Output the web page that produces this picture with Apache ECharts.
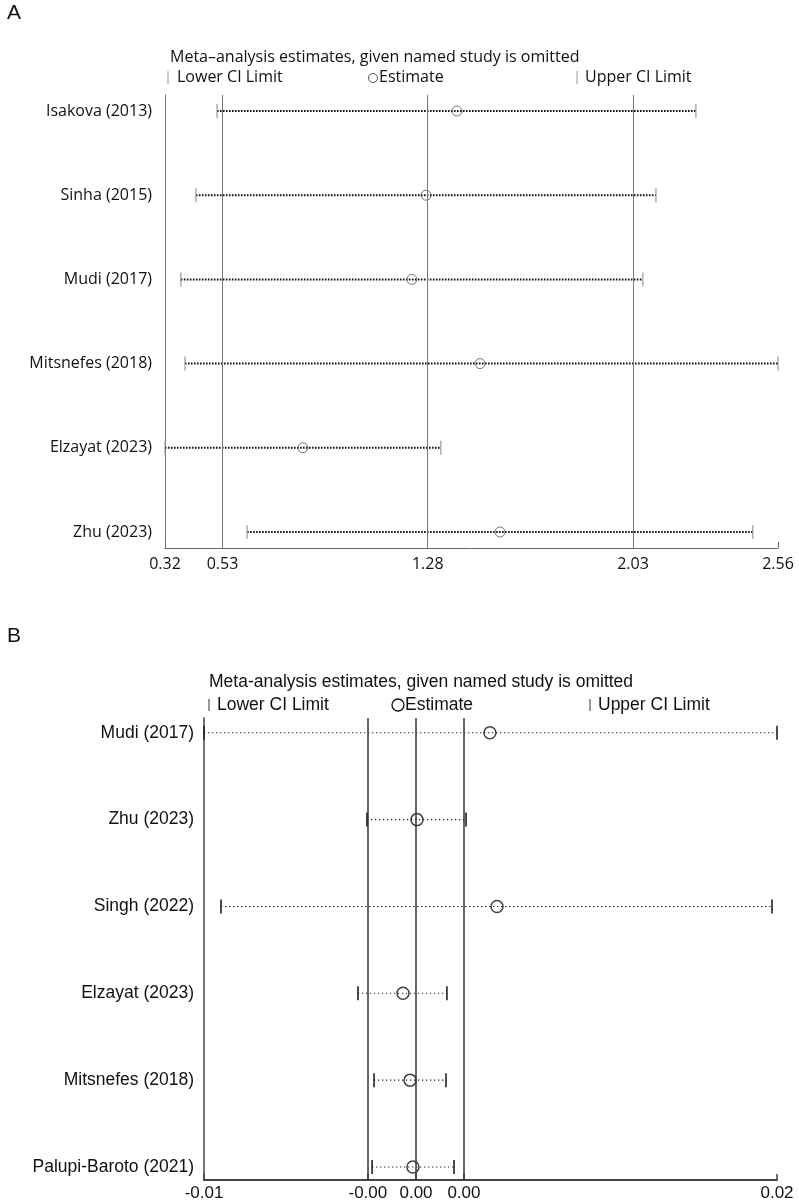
<!DOCTYPE html>
<html>
<head>
<meta charset="utf-8">
<script src="https://cdn.jsdelivr.net/npm/echarts@6/dist/echarts.min.js"></script>
<style>
html, body { margin: 0; padding: 0; background: #fff; }
#main { width: 799px; height: 1202px; }
</style>
</head>
<body>
<div id="main"></div>
<script>
// panel A
var studiesA = ['Isakova (2013)', 'Sinha (2015)', 'Mudi (2017)', 'Mitsnefes (2018)', 'Elzayat (2023)', 'Zhu (2023)'];
var lowerA = [0.51, 0.433, 0.378, 0.393, 0.32, 0.62];
var estA = [1.387, 1.274, 1.222, 1.471, 0.824, 1.544];
var upperA = [2.26, 2.114, 2.066, 2.56, 1.328, 2.468];
var ticksA = [0.32, 0.53, 1.28, 2.03, 2.56];
var tickLabelsA = ['0.32', '0.53', '1.28', '2.03', '2.56'];

// panel B
var studiesB = ['Mudi (2017)', 'Zhu (2023)', 'Singh (2022)', 'Elzayat (2023)', 'Mitsnefes (2018)', 'Palupi-Baroto (2021)'];
var lowerB = [-0.0100, -0.00147, -0.00911, -0.00194, -0.00110, -0.00120];
var estB = [0.00497, 0.00115, 0.00534, 0.00042, 0.00079, 0.00094];
var upperB = [0.0200, 0.00372, 0.01974, 0.00272, 0.00267, 0.00309];
var ticksB = [-0.0100, -0.00142, 0.00110, 0.00361, 0.0200];
var tickLabelsB = ['-0.01', '-0.00', '0.00', '0.00', '0.02'];

var rowIdx = [0, 1, 2, 3, 4, 5];

function pickLabel(ticks, labels) {
  return function (v) {
    var best = 0;
    for (var i = 1; i < ticks.length; i++) {
      if (Math.abs(ticks[i] - v) < Math.abs(ticks[best] - v)) best = i;
    }
    return labels[best];
  };
}

// dotted CI line with a small bar at each end
function ciRender(st) {
  return function (params, api) {
    var row = api.value(0);
    var p1 = api.coord([api.value(1), row]);
    var p2 = api.coord([api.value(2), row]);
    var h = st.capH / 2;
    return {
      type: 'group',
      children: [
        { type: 'line', shape: { x1: p1[0], y1: p1[1], x2: p2[0], y2: p2[1] },
          style: { stroke: st.dot, lineWidth: st.dotW, lineDash: st.dash, lineCap: 'butt' } },
        { type: 'line', shape: { x1: p1[0], y1: p1[1] - h, x2: p1[0], y2: p1[1] + h },
          style: { stroke: st.cap, lineWidth: st.capW } },
        { type: 'line', shape: { x1: p2[0], y1: p2[1] - h, x2: p2[0], y2: p2[1] + h },
          style: { stroke: st.cap, lineWidth: st.capW } }
      ]
    };
  };
}

var ciA = rowIdx.map(function (i) { return [i, lowerA[i], upperA[i]]; });
var ciB = rowIdx.map(function (i) { return [i, lowerB[i], upperB[i]]; });
var ptA = rowIdx.map(function (i) { return [estA[i], i]; });
var ptB = rowIdx.map(function (i) { return [estB[i], i]; });

var fontA = '"Open Sans", sans-serif';
var fontB = '"Liberation Sans", Arial, sans-serif';

var chart = echarts.init(document.getElementById('main'));

var option = {
  animation: false,
  backgroundColor: '#fff',
  grid: [
    { left: 165, right: 21, top: 95, height: 453 },
    { left: 204, right: 22, top: 718, height: 462 }
  ],
  xAxis: [
    {
      gridIndex: 0, type: 'value', min: ticksA[0], max: ticksA[ticksA.length - 1],
      splitLine: { show: false },
      axisLine: { onZero: false, lineStyle: { color: '#666', width: 1 } },
      axisTick: { customValues: ticksA, inside: true, length: 6, lineStyle: { color: '#666' } },
      axisLabel: { customValues: ticksA, formatter: pickLabel(ticksA, tickLabelsA),
        color: '#111', fontFamily: fontA, fontSize: 16, margin: 8 }
    },
    {
      gridIndex: 1, type: 'value', min: ticksB[0], max: ticksB[ticksB.length - 1],
      splitLine: { show: false },
      axisLine: { onZero: false, lineStyle: { color: '#444', width: 2 } },
      axisTick: { customValues: ticksB, inside: true, length: 6, lineStyle: { color: '#444', width: 1.5 } },
      axisLabel: { customValues: ticksB, formatter: pickLabel(ticksB, tickLabelsB),
        color: '#111', fontFamily: fontB, fontSize: 17, margin: 5 }
    }
  ],
  yAxis: [
    {
      gridIndex: 0, type: 'value', inverse: true, min: -0.19, max: 5.19,
      splitLine: { show: false },
      axisLine: { show: true, onZero: false, lineStyle: { color: '#777', width: 1 } },
      axisTick: { show: false },
      axisLabel: { customValues: rowIdx, formatter: function (v) { return studiesA[v]; },
        color: '#111', fontFamily: fontA, fontSize: 16, margin: 13 }
    },
    {
      gridIndex: 1, type: 'value', inverse: true, min: -0.17, max: 5.15,
      splitLine: { show: false },
      axisLine: { show: true, onZero: false, lineStyle: { color: '#444', width: 1.5 } },
      axisTick: { show: false },
      axisLabel: { customValues: rowIdx, formatter: function (v) { return studiesB[v]; },
        color: '#111', fontFamily: fontB, fontSize: 17.5, margin: 10 }
    }
  ],
  series: [
    {
      type: 'custom', xAxisIndex: 0, yAxisIndex: 0, silent: true,
      encode: { x: [1, 2], y: 0 },
      renderItem: ciRender({ dot: '#111', dotW: 2, dash: [1.6, 1.4], cap: '#999', capW: 1.2, capH: 14 }),
      data: ciA
    },
    {
      type: 'scatter', xAxisIndex: 0, yAxisIndex: 0, silent: true,
      symbol: 'circle', symbolSize: 10,
      itemStyle: { color: 'rgba(0,0,0,0)', borderColor: '#555', borderWidth: 1 },
      markLine: {
        silent: true, symbol: ['none', 'none'], label: { show: false }, precision: 6,
        lineStyle: { type: 'solid', color: '#777', width: 1 },
        data: ticksA.slice(1, 4).map(function (v) { return { xAxis: v }; })
      },
      data: ptA
    },
    {
      type: 'custom', xAxisIndex: 1, yAxisIndex: 1, silent: true,
      encode: { x: [1, 2], y: 0 },
      renderItem: ciRender({ dot: '#222', dotW: 1.1, dash: [1.3, 2.7], cap: '#222', capW: 1.6, capH: 14 }),
      data: ciB
    },
    {
      type: 'scatter', xAxisIndex: 1, yAxisIndex: 1, silent: true,
      symbol: 'circle', symbolSize: 12,
      itemStyle: { color: 'rgba(0,0,0,0)', borderColor: '#111', borderWidth: 1.5 },
      markLine: {
        silent: true, symbol: ['none', 'none'], label: { show: false }, precision: 6,
        lineStyle: { type: 'solid', color: '#333', width: 1.5 },
        data: ticksB.slice(1, 4).map(function (v) { return { xAxis: v }; })
      },
      data: ptB
    }
  ],
  graphic: [
    { type: 'text', left: 7, top: 3, style: { text: 'A', fontFamily: fontB, fontSize: 21, fill: '#111' } },
    { type: 'text', x: 170, y: 57, style: { text: 'Meta\u2013analysis estimates, given named study is omitted',
      fontFamily: fontA, fontSize: 16, fill: '#111', verticalAlign: 'middle' } },
    { type: 'line', shape: { x1: 168, y1: 71, x2: 168, y2: 84 }, style: { stroke: '#999', lineWidth: 1 } },
    { type: 'text', x: 177, y: 77, style: { text: 'Lower CI Limit', fontFamily: fontA, fontSize: 16, fill: '#111', verticalAlign: 'middle' } },
    { type: 'circle', shape: { cx: 373, cy: 78, r: 4.5 }, style: { fill: 'none', stroke: '#555', lineWidth: 1 } },
    { type: 'text', x: 379, y: 77, style: { text: 'Estimate', fontFamily: fontA, fontSize: 16, fill: '#111', verticalAlign: 'middle' } },
    { type: 'line', shape: { x1: 577, y1: 71, x2: 577, y2: 84 }, style: { stroke: '#999', lineWidth: 1 } },
    { type: 'text', x: 585, y: 77, style: { text: 'Upper CI Limit', fontFamily: fontA, fontSize: 16, fill: '#111', verticalAlign: 'middle' } },

    { type: 'text', left: 7, top: 626, style: { text: 'B', fontFamily: fontB, fontSize: 21, fill: '#111' } },
    { type: 'text', x: 209, y: 682, style: { text: 'Meta-analysis estimates, given named study is omitted',
      fontFamily: fontB, fontSize: 17.5, fill: '#111', verticalAlign: 'middle' } },
    { type: 'line', shape: { x1: 209, y1: 699, x2: 209, y2: 711 }, style: { stroke: '#333', lineWidth: 1 } },
    { type: 'text', x: 217, y: 705, style: { text: 'Lower CI Limit', fontFamily: fontB, fontSize: 17.5, fill: '#111', verticalAlign: 'middle' } },
    { type: 'circle', shape: { cx: 398, cy: 705, r: 6 }, style: { fill: 'none', stroke: '#111', lineWidth: 1.3 } },
    { type: 'text', x: 405, y: 705, style: { text: 'Estimate', fontFamily: fontB, fontSize: 17.5, fill: '#111', verticalAlign: 'middle' } },
    { type: 'line', shape: { x1: 590, y1: 699, x2: 590, y2: 711 }, style: { stroke: '#333', lineWidth: 1 } },
    { type: 'text', x: 598, y: 705, style: { text: 'Upper CI Limit', fontFamily: fontB, fontSize: 17.5, fill: '#111', verticalAlign: 'middle' } }
  ]
};

chart.setOption(option);
</script>
</body>
</html>
